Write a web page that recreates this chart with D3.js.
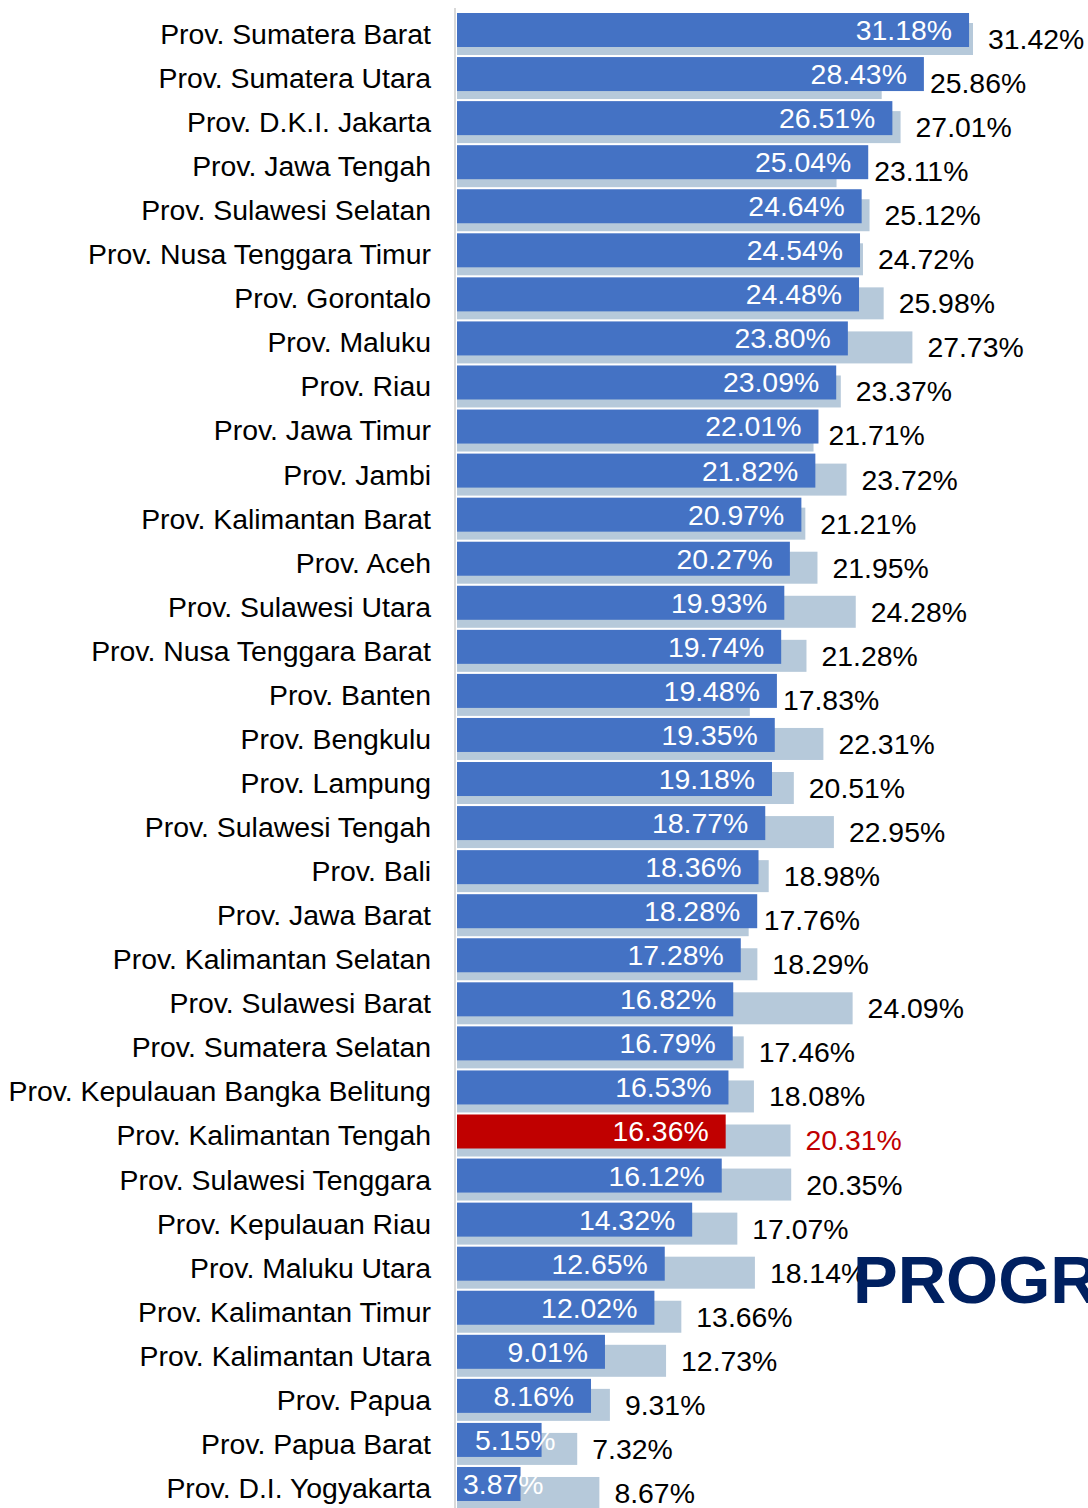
<!DOCTYPE html>
<html>
<head>
<meta charset="utf-8">
<script src="https://cdn.jsdelivr.net/npm/d3@7"></script>
<style>
  body { margin: 0; background: #fff; }
  svg { display: block; font-family: "Liberation Sans", Arial, sans-serif; }
</style>
</head>
<body>
<div id="chart"></div>
<script>
// provinces, top to bottom
const provinces = [
  "Prov. Sumatera Barat", "Prov. Sumatera Utara", "Prov. D.K.I. Jakarta", "Prov. Jawa Tengah",
  "Prov. Sulawesi Selatan", "Prov. Nusa Tenggara Timur", "Prov. Gorontalo", "Prov. Maluku",
  "Prov. Riau", "Prov. Jawa Timur", "Prov. Jambi", "Prov. Kalimantan Barat", "Prov. Aceh",
  "Prov. Sulawesi Utara", "Prov. Nusa Tenggara Barat", "Prov. Banten", "Prov. Bengkulu",
  "Prov. Lampung", "Prov. Sulawesi Tengah", "Prov. Bali", "Prov. Jawa Barat",
  "Prov. Kalimantan Selatan", "Prov. Sulawesi Barat", "Prov. Sumatera Selatan",
  "Prov. Kepulauan Bangka Belitung", "Prov. Kalimantan Tengah", "Prov. Sulawesi Tenggara",
  "Prov. Kepulauan Riau", "Prov. Maluku Utara", "Prov. Kalimantan Timur",
  "Prov. Kalimantan Utara", "Prov. Papua", "Prov. Papua Barat", "Prov. D.I. Yogyakarta"
];

// front (dark blue) bars
const current = [
  31.18, 28.43, 26.51, 25.04, 24.64, 24.54, 24.48, 23.80, 23.09, 22.01, 21.82, 20.97, 20.27,
  19.93, 19.74, 19.48, 19.35, 19.18, 18.77, 18.36, 18.28, 17.28, 16.82, 16.79, 16.53, 16.36,
  16.12, 14.32, 12.65, 12.02, 9.01, 8.16, 5.15, 3.87
];

// back (light) bars
const previous = [
  31.42, 25.86, 27.01, 23.11, 25.12, 24.72, 25.98, 27.73, 23.37, 21.71, 23.72, 21.21, 21.95,
  24.28, 21.28, 17.83, 22.31, 20.51, 22.95, 18.98, 17.76, 18.29, 24.09, 17.46, 18.08, 20.31,
  20.35, 17.07, 18.14, 13.66, 12.73, 9.31, 7.32, 8.67
];

const highlight = "Prov. Kalimantan Tengah";

const width = 1088, height = 1508;
const fontSize = 28.4;
const rows = provinces.map((p, i) => ({ name: p, cur: current[i], prev: previous[i] }));

const svg = d3.select("#chart").append("svg")
  .attr("width", width)
  .attr("height", height);

const x = d3.scaleLinear().domain([0, 31.42]).range([457, 973]);
const y = d3.scaleBand().domain(provinces).range([13, 13 + provinces.length * 44.06]);

// axis line
svg.append("line")
  .attr("x1", 455).attr("x2", 455)
  .attr("y1", 8).attr("y2", height)
  .attr("stroke", "#d9d9d9")
  .attr("stroke-width", 2);

// back bars
svg.selectAll(".prev")
  .data(rows)
  .enter()
  .append("rect")
  .attr("class", "prev")
  .attr("x", x(0))
  .attr("y", d => y(d.name) + 10)
  .attr("width", d => x(d.prev) - x(0))
  .attr("height", 32)
  .attr("fill", "#b6c9da");

// front bars
svg.selectAll(".cur")
  .data(rows)
  .enter()
  .append("rect")
  .attr("class", "cur")
  .attr("x", x(0))
  .attr("y", d => y(d.name))
  .attr("width", d => x(d.cur) - x(0))
  .attr("height", 34)
  .attr("fill", d => d.name === highlight ? "#c00000" : "#4472c4");

// category labels
svg.selectAll(".cat")
  .data(rows)
  .enter()
  .append("text")
  .attr("class", "cat")
  .attr("x", 431)
  .attr("y", d => y(d.name) + 21)
  .attr("dy", "0.35em")
  .attr("text-anchor", "end")
  .attr("font-size", fontSize)
  .attr("fill", "#000")
  .text(d => d.name);

// labels inside front bars (pushed right when the bar is too short)
svg.selectAll(".curLabel")
  .data(rows)
  .enter()
  .append("text")
  .attr("class", "curLabel")
  .attr("y", d => y(d.name) + 17)
  .attr("dy", "0.35em")
  .attr("text-anchor", "end")
  .attr("font-size", fontSize)
  .attr("fill", "#fff")
  .text(d => d.cur.toFixed(2) + "%")
  .attr("x", function (d) {
    const w = this.getComputedTextLength();
    const inside = x(d.cur) - 17;
    if (inside - w >= x(0) + 6) return inside;
    return Math.max(x(d.cur) + 14, x(0) + 6 + w);
  });

// labels after back bars
svg.selectAll(".prevLabel")
  .data(rows)
  .enter()
  .append("text")
  .attr("class", "prevLabel")
  .attr("x", d => Math.max(x(d.prev) + 15, x(d.cur) + 6))
  .attr("y", d => y(d.name) + 26)
  .attr("dy", "0.35em")
  .attr("font-size", fontSize)
  .attr("fill", d => d.name === highlight ? "#c00000" : "#000")
  .text(d => d.prev.toFixed(2) + "%");

// title fragment cut off at the right edge
svg.append("text")
  .attr("x", 853)
  .attr("y", 1303)
  .attr("font-size", 67)
  .attr("font-weight", "bold")
  .attr("fill", "#002060")
  .text("PROGR");
</script>
</body>
</html>
